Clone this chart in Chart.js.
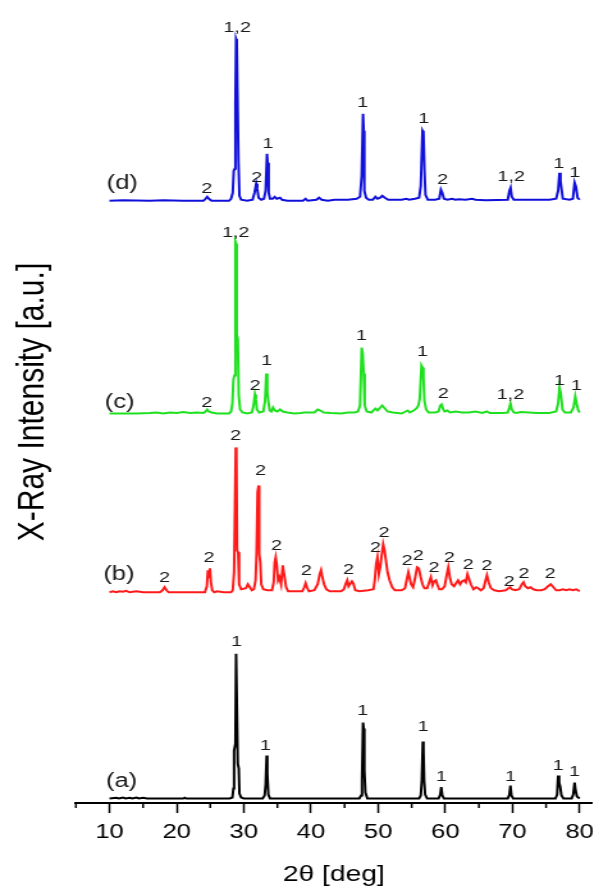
<!DOCTYPE html>
<html>
<head>
<meta charset="utf-8">
<script src="https://cdn.jsdelivr.net/npm/chart.js@4.4.1/dist/chart.umd.min.js"></script>
<style>
  html, body { margin: 0; padding: 0; background: #fff; overflow: hidden; }
  /* the original figure is stretched sideways, so the chart is too */
  #wrap { width: 471px; height: 892px; transform: scaleX(1.28); transform-origin: 0 0; }
</style>
</head>
<body>
<div id="wrap"><canvas id="xrdChart"></canvas></div>
<script>
/* ---- data: [2theta, intensity above the trace's own baseline] ---- */
var X_TICKS = [10, 20, 30, 40, 50, 60, 70, 80];
var X_MINOR = [5, 15, 25, 35, 45, 55, 65, 75];
var TAGS    = ['(a)', '(b)', '(c)', '(d)'];
var COLORS  = ['#000000', '#ff1a1a', '#1fe01f', '#1010d8'];
var OFFSETS = [4.5, 211, 390, 603];   // vertical stacking, a.u.

var TRACE_A = [
  [10,0],[11,0.8],[11.4,0],[12,1],[12.4,0],[13,0.8],[13.4,0],[14,1],[14.4,0],[15,0.8],[15.6,0],[21,0],[21.2,0.8],[21.4,0],
  [27.9,0],[28.3,1],[28.45,10],[28.55,48],[28.75,55],[28.85,145],[28.95,145],[29.1,35],[29.25,30],[29.35,5],[29.6,1],[30,0],
  [32.8,0],[33.1,3],[33.25,14],[33.4,43],[33.5,25],[33.65,4],[33.9,0],
  [47.2,0],[47.45,3],[47.6,18],[47.75,76],[47.85,70],[47.95,28],[48.1,6],[48.4,0],
  [56.1,0],[56.35,3],[56.5,18],[56.65,57],[56.75,50],[56.85,18],[57.0,4],[57.3,0],
  [59.0,0],[59.25,4],[59.4,11.5],[59.55,3],[59.8,0],
  [69.3,0],[69.55,4],[69.7,13],[69.85,3],[70.1,0],
  [76.4,0],[76.65,4],[76.8,23],[76.95,16],[77.1,12],[77.3,3],[77.6,0],
  [78.8,0],[79.05,4],[79.25,16],[79.4,8],[79.6,2],[80,0]
];

var TRACE_B = [
  [10,0],[10.5,1],[11,0],[11.5,1],[12,0.5],[12.5,1.5],[13,0],[14,1],[15,0],[17.5,0],[17.9,2],[18.2,5],[18.5,2],[18.8,0],
  [24.2,0],[24.5,6],[24.65,22],[24.8,15],[24.95,24],[25.1,10],[25.3,2],[25.6,0],[26,1],[27,0],
  [28.1,0],[28.35,2],[28.55,20],[28.65,68],[28.8,145],[28.9,142],[29.0,42],[29.15,40],[29.3,8],[29.6,3],
  [30.3,4],[30.6,8],[30.9,5],[31.2,2],[31.5,3],[31.75,12],[31.9,40],[32.05,100],[32.2,107],[32.3,38],[32.45,30],[32.6,8],[32.9,3],[33.5,2],
  [34.2,2],[34.45,10],[34.6,30],[34.75,35],[34.9,28],[35.1,12],[35.3,15],[35.55,8],[35.8,27],[35.95,20],[36.1,14],[36.3,5],[36.6,1],
  [38.7,1],[39.0,5],[39.2,9],[39.4,5],[39.7,1],[40.5,2],[41.0,8],[41.3,18],[41.5,22],[41.7,15],[41.95,8],[42.3,3],[42.8,1],
  [44.5,1],[44.9,3],[45.2,9],[45.4,12],[45.6,6],[45.8,8],[46.1,11],[46.3,9],[46.6,2],[47.2,1],
  [48.5,2],[49.3,3],[49.5,12],[49.7,28],[49.9,35],[50.1,18],[50.3,25],[50.55,38],[50.75,48],[50.95,42],[51.2,30],[51.4,20],[51.7,12],[52.1,5],[52.5,2],
  [53.5,2],[54.0,4],[54.3,14],[54.5,20],[54.7,14],[54.9,8],[55.2,5],[55.5,14],[55.8,25],[56.05,24],[56.3,16],[56.6,8],[56.9,4],
  [57.3,4],[57.6,10],[57.85,15],[58.1,7],[58.35,11],[58.6,12],[58.8,8],[59.1,3],[59.5,3],
  [59.9,6],[60.2,17],[60.45,25],[60.7,14],[60.95,8],[61.3,6],[61.6,9],[61.9,12],[62.2,8],[62.5,11],[62.8,12],[63.05,10],[63.3,18],[63.5,14],[63.8,8],
  [64.2,3],[64.6,5],[64.9,4],[65.3,2],[65.7,4],[66.0,12],[66.2,17],[66.45,10],[66.8,4],[67.3,2],[68,1],[69,2],[69.4,4],[69.65,5],[69.9,3],
  [70.4,2],[71,3],[71.4,8],[71.65,10],[71.9,6],[72.3,4],[72.7,5],[73.1,3],[73.6,2],[74.3,2],[74.8,3],[75.3,6],[75.7,8],[76.1,5],[76.5,2],
  [77,2],[77.5,3],[78,2],[78.5,3],[79,2],[79.5,3],[80,1]
];

var TRACE_C = [
  [10,0],[14,0],[16,0.5],[17,1],[18,0],[19,1],[20,0.5],[21,1.5],[22,0.5],[23,1],[24,0.5],[24.3,2],[24.55,4],[24.8,2],[25.2,1],[26,0],[27.8,0],
  [28.1,2],[28.3,10],[28.45,34],[28.6,38],[28.75,172],[28.85,170],[28.95,79],[29.1,75],[29.25,18],[29.45,4],[29.8,1],[30.5,0],
  [31.2,1],[31.45,8],[31.65,19],[31.8,14],[31.95,4],[32.3,1],[32.9,2],[33.15,12],[33.35,40],[33.5,22],[33.65,12],[33.85,3],
  [34.1,2],[34.35,6],[34.6,3],[35.0,2],[35.4,4],[35.8,2],[36.5,1],[37.5,0],[38.5,0.5],[39.0,1],[40.5,1],[41.0,4],[41.4,3],[41.9,1],[43,0.5],[44.5,0],[45.5,1],[46.5,1],
  [47.0,2],[47.3,8],[47.55,66],[47.7,60],[47.85,40],[48.0,8],[48.3,2],[49.0,1],[49.3,3],[49.6,5],[49.9,3],[50.2,5],[50.6,8],[51.0,5],[51.4,2],[52.2,1],
  [53.5,0],[54.1,2],[54.4,3],[54.7,1],[55.3,3],[55.7,5],[56.0,8],
  [56.2,15],[56.45,48],[56.6,46],[56.75,35],[56.9,12],[57.15,4],[57.5,1],[58.5,1],[59.0,2],[59.25,8],[59.45,9],[59.7,4],[59.9,2],[60.3,3],[60.7,1],
  [61.5,2],[62.5,1],[63.5,1],[64.5,2],[65.5,0.5],[66.2,2],[66.6,0.5],[68.5,0.5],[69.3,1],[69.55,6],[69.7,10],[69.9,4],[70.2,1],[70.6,0.5],[71.2,1.5],
  [72.5,1],[73.5,0.5],[75.5,0.5],[76.5,2],[76.8,10],[77.0,26],[77.2,20],[77.45,4],[77.8,1],[78.7,1],[79.1,6],[79.35,17],[79.55,10],[79.8,3],[80,1]
];

var TRACE_D = [
  [10,0],[12,0.5],[16,0],[18,0.5],[21,0],[24,0],[24.3,2],[24.55,4],[24.8,2],[25.2,0],[26.5,0],[27.8,0],
  [28.1,2],[28.35,8],[28.5,30],[28.65,32],[28.75,96],[28.85,162],[28.95,160],[29.05,112],[29.2,40],[29.35,5],[29.6,1],[30.5,0],
  [31.3,1],[31.6,8],[31.85,17],[32.0,12],[32.2,3],[32.6,1],[33.0,2],[33.25,10],[33.45,47],[33.55,38],[33.7,8],[33.9,2],
  [34.3,2],[34.6,4],[34.9,2],[35.4,3],[35.7,1],[36.5,0],[38.8,0],[39.2,2],[39.5,0],[40.8,1],[41.2,3],[41.6,1],[42.5,0],[43.5,1],[45.5,1],[46.8,2],[47.3,4],
  [47.55,25],[47.75,87],[47.85,70],[47.95,10],[48.2,3],[48.6,1],[49.2,1],[49.6,4],[49.9,2],[50.3,3],[50.6,5],[51.0,3],[51.5,1],[53.5,1],[54.2,2],[54.6,1],[55.5,2],[56.1,3],
  [56.35,15],[56.6,70],[56.75,68],[56.9,30],[57.05,6],[57.4,1],[58.5,1],[59.1,2],[59.35,11],[59.55,8],[59.8,2],[60.3,1],
  [61,2],[61.5,1],[62,1.5],[63,1],[64,2],[64.5,1],[66,0.5],[69.3,1],[69.55,10],[69.72,13],[69.9,4],[70.2,1],[71,1],[72.5,1],[74,1],[75.5,1],
  [76.5,2],[76.8,10],[77.0,28],[77.15,20],[77.3,12],[77.5,2],[78.5,1],[79.0,2],[79.25,18],[79.45,14],[79.7,3],[80,1]
];

/* phase labels: [2theta, text, height above baseline] */
var PEAKS_A = [[28.9,'1',157],[33.2,'1',53],[47.7,'1',88],[56.7,'1',72],[59.4,'1',22],[69.7,'1',22],[76.8,'1',33],[79.25,'1',27]];
var PEAKS_B = [[18.2,'2',15],[24.8,'2',35],[28.8,'2',157],[32.5,'2',122],[34.9,'2',47],[39.3,'2',22],[45.6,'2',23],[49.6,'2',45],[50.9,'2',60],
               [54.3,'2',32],[56.0,'2',37],[58.3,'2',25],[60.6,'2',35],[63.4,'2',28],[66.2,'2',27],[69.5,'2',11],[71.7,'2',19],[75.6,'2',19]];
var PEAKS_C = [[24.5,'2',11],[28.8,'1,2',181],[31.7,'2',28],[33.4,'1',53],[47.5,'1',78],[56.6,'1',62],[59.7,'2',20],[69.7,'1,2',19],[77.0,'1',33],[79.5,'1',28]];
var PEAKS_D = [[24.5,'2',12],[29.0,'1,2',173],[31.9,'2',23],[33.6,'1',57],[47.7,'1',98],[56.8,'1',82],[59.6,'2',21],[69.8,'1,2',24],[76.9,'1',37],[79.3,'1',28]];
var TAG_X = [11.8, 11.4, 11.5, 11.9];
var TAG_Y = [17, 18, 11, 17];

var TRACES = [TRACE_A, TRACE_B, TRACE_C, TRACE_D];
var PEAKS  = [PEAKS_A, PEAKS_B, PEAKS_C, PEAKS_D];

Chart.defaults.font.family = '"Liberation Sans", Arial, sans-serif';
Chart.defaults.color = '#000';

/* labels next to peaks and the (a)-(d) tags */
var peakLabels = {
    id: 'peakLabels',
    afterDatasetsDraw: function (chart) {
        var ctx = chart.ctx, xs = chart.scales.x, ys = chart.scales.y;
        ctx.save();
        ctx.textAlign = 'center';
        ctx.textBaseline = 'middle';
        ctx.fillStyle = '#1a1a1a';
        PEAKS.forEach(function (list, i) {
            ctx.font = '15.5px "Liberation Sans", Arial, sans-serif';
            list.forEach(function (p) {
                ctx.fillText(p[1], xs.getPixelForValue(p[0]), ys.getPixelForValue(OFFSETS[i] + p[2]));
            });
            ctx.font = '20px "Liberation Sans", Arial, sans-serif';
            ctx.fillText(TAGS[i], xs.getPixelForValue(TAG_X[i]), ys.getPixelForValue(OFFSETS[i] + TAG_Y[i]));
        });
        ctx.restore();
    }
};

/* short minor ticks between the labelled ones */
var minorTicks = {
    id: 'minorTicks',
    afterDraw: function (chart) {
        var ctx = chart.ctx, xs = chart.scales.x;
        ctx.save();
        ctx.strokeStyle = '#000';
        ctx.lineWidth = 1.5;
        X_MINOR.forEach(function (v) {
            var px = xs.getPixelForValue(v);
            ctx.beginPath();
            ctx.moveTo(px, xs.top);
            ctx.lineTo(px, xs.top + 5);
            ctx.stroke();
        });
        ctx.restore();
    }
};

new Chart(document.getElementById('xrdChart'), {
    type: 'line',
    data: {
        datasets: TRACES.map(function (tr, i) {
            return {
                data: tr.map(function (p) { return { x: p[0], y: p[1] + OFFSETS[i] }; }),
                borderColor: COLORS[i],
                borderWidth: 2,
                pointRadius: 0,
                tension: 0,
                fill: false,
            };
        }),
    },
    options: {
        responsive: true,
        maintainAspectRatio: false,
        animation: false,
        events: [],
        layout: { padding: { top: 0, right: 2.4, bottom: 0, left: 0 } },
        plugins: { legend: { display: false }, tooltip: { enabled: false } },
        scales: {
            x: {
                type: 'linear',
                min: 5, max: 81.8,
                afterBuildTicks: function (s) { s.ticks = X_TICKS.map(function (v) { return { value: v }; }); },
                afterFit: function (s) { s.height = 89; },
                grid: { display: true, drawOnChartArea: false, drawTicks: true, tickLength: 10, tickWidth: 1.5, tickColor: '#000' },
                border: { display: true, color: '#000', width: 2 },
                ticks: { font: { size: 20 }, color: '#000', padding: 7, maxRotation: 0, autoSkip: false },
                title: { display: true, text: '2θ [deg]', font: { size: 22 }, color: '#000', padding: { top: 0, bottom: 4 } },
            },
            y: {
                min: 0, max: 803,
                afterFit: function (s) { s.width = 59.3; },
                grid: { display: false },
                border: { display: false },
                ticks: { display: false },
                title: { display: true, text: 'X-Ray Intensity [a.u.]', font: { size: 30 }, color: '#000', padding: { top: 7.8, bottom: 0 } },
            },
        },
    },
    plugins: [peakLabels, minorTicks],
});
</script>
</body>
</html>
